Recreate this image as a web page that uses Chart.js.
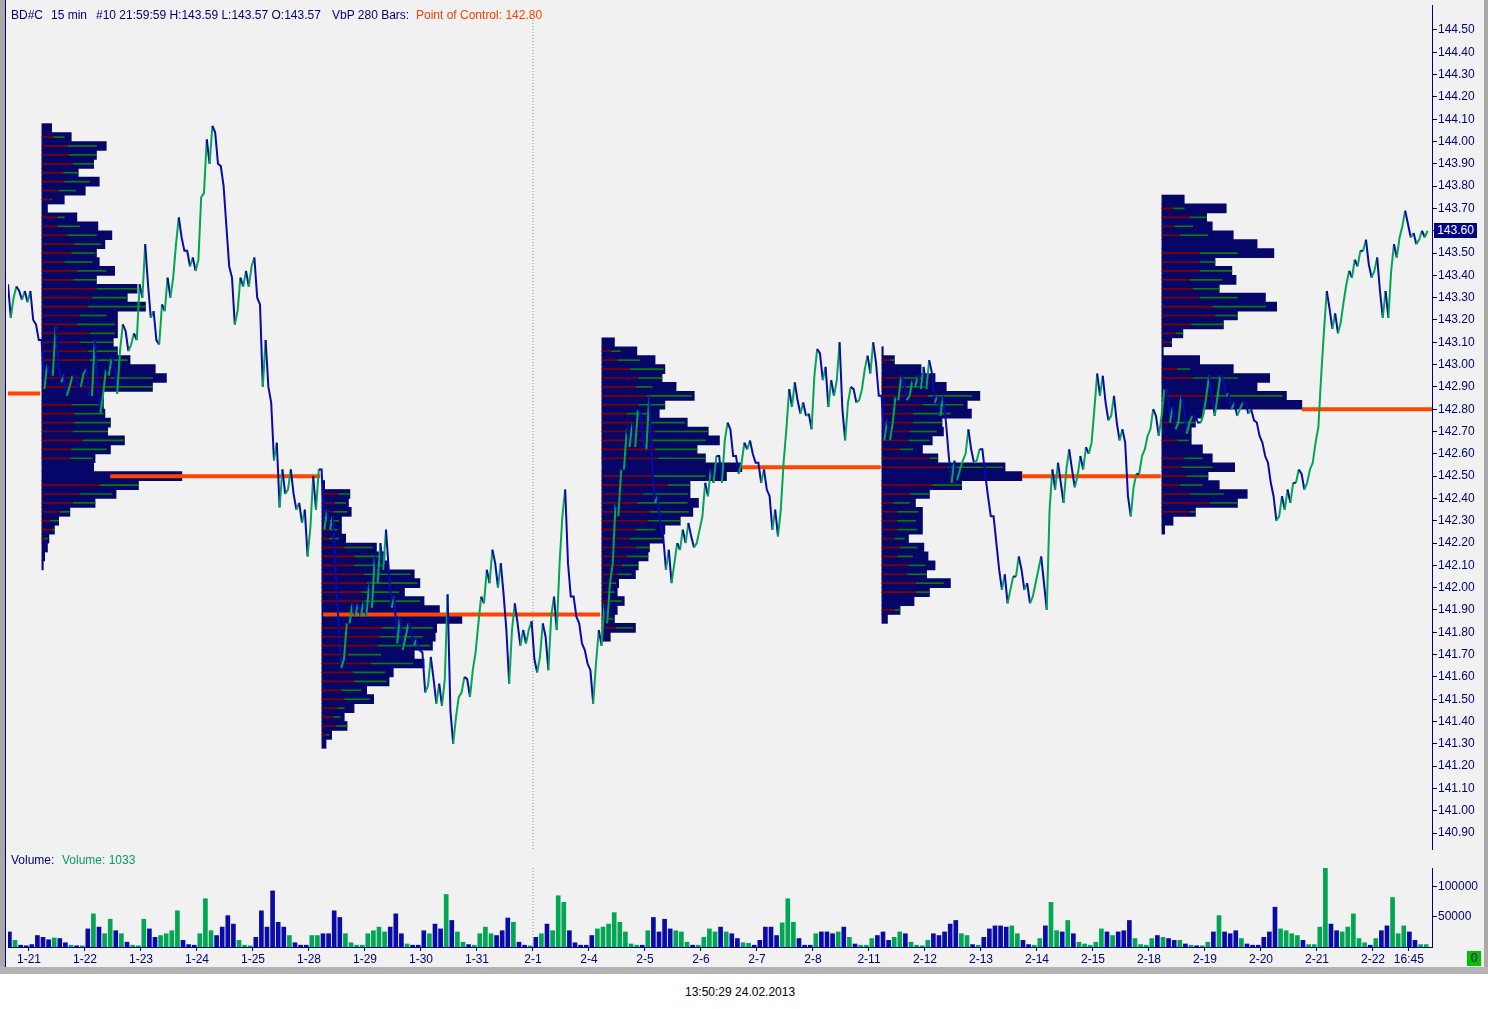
<!DOCTYPE html>
<html>
<head>
<meta charset="utf-8">
<script src="https://cdn.jsdelivr.net/npm/chart.js@4.4.0/dist/chart.umd.min.js"></script>
<style>
  html, body { margin: 0; padding: 0; background: #fff; }
  body { width: 1488px; height: 1009px; position: relative; overflow: hidden;
         font-family: "Liberation Sans", Arial, sans-serif; font-size: 12px; }
  #panel { position: absolute; left: 0; top: 0; width: 1488px; height: 968px; background: #f1f1f1; }
  #edgeL { position: absolute; left: 0; top: 0; width: 5px; height: 968px; background: #a9a9a9; }
  #lineL { position: absolute; left: 5px; top: 0; width: 1px; height: 968px; background: #00006e; }
  #edgeR { position: absolute; right: 0; top: 0; width: 4px; height: 968px; background: #a9a9a9; }
  #edgeB { position: absolute; left: 0; top: 967px; width: 1488px; height: 7px; background: #b4b4b4; }
  canvas { position: absolute; left: 0; }
  .t { position: absolute; white-space: nowrap; line-height: 14px; color: #000080; }
  #last { position: absolute; left: 1434px; top: 223px; width: 43px; height: 15px; line-height: 15px;
          background: #000080; color: #fff; text-align: center; }
  #zero { position: absolute; left: 1467px; top: 951px; width: 14px; height: 15px; line-height: 15px;
          background: #00c000; color: #000060; text-align: center; }
</style>
</head>
<body>
<div id="panel"></div>
<div id="edgeL"></div>
<div id="lineL"></div>
<div id="edgeR"></div>
<div id="edgeB"></div>
<canvas id="price" width="1488" height="850" style="top:0"></canvas>
<canvas id="vol" width="1488" height="120" style="top:850px"></canvas>

<div class="t" style="left:11px;top:8px">BD#C</div>
<div class="t" style="left:51px;top:8px">15 min</div>
<div class="t" style="left:96px;top:8px">#10 21:59:59 H:143.59 L:143.57 O:143.57</div>
<div class="t" style="left:332px;top:8px">VbP 280 Bars:</div>
<div class="t" style="left:416px;top:8px;color:#ff4000">Point of Control: 142.80</div>
<div class="t" style="left:11px;top:853px">Volume:</div>
<div class="t" style="left:62px;top:853px;color:#00a060">Volume: 1033</div>
<div class="t" style="left:685px;top:985px;color:#000">13:50:29 24.02.2013</div>
<div id="last">143.60</div>
<div id="zero">0</div>

<script>
// price range per sample, one sample every 0.1 day starting at day -0.35 (day 0 = 1-21)
const PRICE_START = -0.35;
const PRICE_STEP = 0.1;
const highs = [
  143.36, 143.35, 143.33, 143.33, 143.33, 143.18, 143.11, 143.00, 143.17, 143.00,
  142.95, 142.95, 142.95, 142.96, 142.98, 143.11, 142.92, 142.98, 143.03, 143.00,
  143.18, 143.15, 143.14, 143.36, 143.54, 143.36, 143.24, 143.27, 143.39, 143.39,
  143.66, 143.57, 143.51, 143.48, 143.75, 144.01, 144.07, 144.04, 143.89, 143.62,
  143.39, 143.39, 143.42, 143.44, 143.48, 143.27, 143.11, 142.83, 142.65, 142.53,
  142.53, 142.42, 142.38, 142.35, 142.50, 142.53, 142.53, 142.35, 142.32, 141.85,
  141.84, 141.93, 141.93, 141.94, 142.02, 142.14, 142.20, 142.26, 142.08, 141.96,
  141.87, 141.84, 141.81, 141.77, 141.71, 141.69, 141.59, 141.57, 141.97, 141.45,
  141.51, 141.60, 141.59, 141.71, 141.96, 142.08, 142.17, 142.11, 142.11, 141.81,
  141.93, 141.84, 141.81, 141.85, 141.68, 141.84, 141.78, 141.96, 142.11, 142.44,
  142.11, 141.96, 141.84, 141.72, 141.63, 141.81, 141.93, 142.02, 142.38, 142.53,
  142.71, 142.74, 142.80, 142.78, 142.86, 142.56, 142.41, 142.23, 142.17, 142.20,
  142.26, 142.29, 142.23, 142.26, 142.47, 142.53, 142.59, 142.59, 142.74, 142.71,
  142.59, 142.65, 142.66, 142.60, 142.56, 142.53, 142.41, 142.35, 142.56, 142.89,
  142.92, 142.84, 142.83, 142.78, 143.07, 143.05, 142.99, 142.93, 143.10, 142.80,
  142.90, 142.89, 142.89, 143.04, 143.10, 143.01, 142.86, 142.75, 142.86, 142.95,
  142.92, 142.93, 142.95, 142.99, 143.02, 142.96, 142.86, 142.86, 142.59, 142.57,
  142.57, 142.71, 142.62, 142.62, 142.62, 142.41, 142.32, 142.08, 142.06, 142.05,
  142.14, 142.08, 142.02, 142.02, 142.14, 142.02, 142.53, 142.56, 142.47, 142.62,
  142.53, 142.59, 142.63, 142.65, 142.96, 142.95, 142.83, 142.86, 142.74, 142.71,
  142.41, 142.51, 142.59, 142.68, 142.80, 142.77, 142.89, 142.89, 142.81, 142.86,
  142.81, 142.77, 142.77, 142.78, 142.95, 142.86, 142.95, 142.93, 142.87, 142.83,
  142.83, 142.83, 142.80, 142.74, 142.65, 142.56, 142.41, 142.41, 142.44, 142.47,
  142.53, 142.51, 142.53, 142.65, 142.95, 143.33, 143.25, 143.23, 143.28, 143.42,
  143.47, 143.51, 143.56, 143.45, 143.48, 143.33, 143.33, 143.54, 143.57, 143.69,
  143.63, 143.59, 143.60, 143.60
];
const lows = [
  143.21, 143.30, 143.29, 143.28, 143.20, 143.11, 142.89, 142.95, 142.95, 142.92,
  142.86, 142.90, 142.90, 142.90, 142.86, 142.86, 142.78, 142.87, 142.95, 142.87,
  143.06, 143.06, 143.09, 143.11, 143.30, 143.21, 143.11, 143.09, 143.24, 143.30,
  143.54, 143.51, 143.44, 143.42, 143.47, 143.77, 143.90, 143.90, 143.80, 143.44,
  143.18, 143.24, 143.35, 143.35, 143.30, 142.90, 142.90, 142.57, 142.36, 142.42,
  142.44, 142.35, 142.29, 142.14, 142.27, 142.35, 142.26, 142.26, 142.08, 141.64,
  141.68, 141.84, 141.87, 141.87, 141.87, 141.91, 142.02, 142.08, 141.91, 141.75,
  141.72, 141.78, 141.74, 141.72, 141.53, 141.56, 141.48, 141.47, 141.59, 141.30,
  141.42, 141.53, 141.51, 141.63, 141.84, 141.93, 142.02, 142.00, 141.97, 141.57,
  141.81, 141.74, 141.75, 141.81, 141.62, 141.69, 141.63, 141.87, 141.81, 142.32,
  141.96, 141.87, 141.75, 141.66, 141.48, 141.66, 141.74, 141.84, 142.11, 142.32,
  142.53, 142.63, 142.63, 142.65, 142.62, 142.38, 142.29, 142.08, 142.02, 142.11,
  142.17, 142.20, 142.18, 142.20, 142.32, 142.41, 142.47, 142.47, 142.66, 142.59,
  142.51, 142.56, 142.62, 142.56, 142.47, 142.44, 142.26, 142.23, 142.35, 142.71,
  142.81, 142.78, 142.77, 142.71, 142.95, 142.93, 142.81, 142.86, 142.93, 142.66,
  142.83, 142.83, 142.84, 142.98, 142.96, 142.86, 142.66, 142.66, 142.74, 142.84,
  142.84, 142.86, 142.90, 142.89, 142.89, 142.83, 142.77, 142.74, 142.47, 142.48,
  142.53, 142.60, 142.56, 142.57, 142.51, 142.32, 142.20, 141.99, 141.93, 141.99,
  142.05, 141.99, 141.93, 141.96, 142.08, 141.90, 142.35, 142.44, 142.38, 142.53,
  142.45, 142.50, 142.53, 142.60, 142.80, 142.86, 142.75, 142.77, 142.66, 142.65,
  142.32, 142.45, 142.51, 142.62, 142.71, 142.68, 142.77, 142.74, 142.71, 142.74,
  142.69, 142.74, 142.74, 142.74, 142.86, 142.77, 142.86, 142.86, 142.80, 142.77,
  142.80, 142.78, 142.75, 142.68, 142.59, 142.47, 142.30, 142.32, 142.35, 142.38,
  142.47, 142.44, 142.47, 142.56, 142.72, 143.15, 143.16, 143.14, 143.19, 143.36,
  143.39, 143.44, 143.51, 143.39, 143.42, 143.21, 143.21, 143.42, 143.48, 143.62,
  143.57, 143.54, 143.56, 143.57
];

// volume per sample, thousands of contracts
const volumes = [
  25, 11, 3, 2, 4, 19, 16, 12, 15, 14,
  7, 3, 2, 2, 30, 55, 33, 22, 46, 27,
  22, 8, 3, 2, 46, 30, 16, 19, 22, 27,
  60, 11, 4, 3, 22, 80, 27, 19, 33, 52,
  38, 11, 3, 2, 16, 60, 33, 93, 41, 33,
  19, 7, 3, 3, 19, 19, 22, 22, 60, 49,
  22, 7, 3, 3, 22, 27, 33, 25, 33, 55,
  22, 5, 3, 3, 27, 22, 38, 30, 87, 44,
  25, 8, 4, 3, 22, 33, 22, 19, 27, 48,
  41, 8, 3, 2, 16, 22, 38, 27, 85, 74,
  27, 7, 3, 3, 19, 30, 33, 38, 57, 41,
  25, 5, 3, 3, 27, 49, 25, 46, 30, 27,
  25, 8, 3, 3, 16, 30, 25, 33, 25, 22,
  14, 7, 6, 3, 11, 33, 33, 19, 40, 80,
  41, 14, 3, 3, 22, 25, 25, 22, 25, 33,
  16, 5, 3, 3, 14, 19, 25, 11, 16, 25,
  22, 8, 3, 2, 11, 22, 19, 25, 38, 44,
  22, 19, 4, 3, 16, 30, 35, 35, 33, 35,
  22, 11, 4, 3, 14, 35, 74, 27, 25, 44,
  22, 8, 5, 3, 8, 30, 25, 19, 25, 27,
  44, 14, 4, 3, 14, 19, 16, 14, 11, 11,
  5, 3, 2, 2, 8, 25, 52, 25, 22, 27,
  14, 5, 3, 3, 16, 25, 66, 30, 27, 22,
  19, 11, 4, 4, 33, 131, 38, 27, 25, 33,
  55, 14, 7, 3, 14, 27, 35, 82, 22, 35,
  25, 11, 4, 4
];

// weekly volume-by-price profiles, % of the week's point of control, top row first
const weekStart = [0.23, 5.23, 10.23, 15.23, 20.23];
const profileTop = [144.06, 142.46, 143.10, 143.06, 143.74];
const PROFILE_STEP = 0.04;
const profileWeek1 = [7, 21, 46, 39, 37, 26, 41, 31, 16, 4, 25, 40, 50, 45, 39, 41, 52, 39, 68, 61,
  74, 54, 54, 54, 51, 54, 63, 81, 89, 79, 44, 44, 45, 49, 47, 59, 49, 38, 37, 100,
  69, 53, 38, 20, 12, 9, 5, 4, 2, 1];
const profileWeek2 = [2, 20, 19, 21, 14, 14, 17, 39, 45, 47, 66, 70, 59, 73, 84, 100, 82, 81, 79, 66,
  73, 51, 48, 32, 37, 23, 16, 18, 7, 3];
const profileWeek3 = [9, 25, 38, 45, 43, 53, 66, 45, 41, 61, 76, 84, 68, 74, 100, 89, 63, 63, 69, 65,
  56, 45, 44, 34, 33, 26, 24, 12, 11, 16, 11, 9, 24, 6];
const profileWeek4 = [1, 9, 28, 38, 46, 70, 61, 64, 43, 44, 36, 29, 40, 88, 100, 57, 34, 24, 29, 29,
  29, 19, 30, 33, 38, 32, 49, 34, 23, 13, 4];
const profileWeek5 = [16, 46, 32, 36, 51, 68, 80, 38, 50, 53, 41, 74, 82, 54, 44, 15, 7, 1, 27, 51,
  77, 68, 89, 100, 29, 24, 21, 21, 29, 36, 52, 33, 41, 61, 54, 24, 8, 2];

// down-volume (red) and up-volume end (green) marks inside each profile row, same units
const downWeek1 = [0, 8, 18, 19, 22, 15, 16, 12, 6, 0, 11, 11, 18, 23, 21, 16, 25, 22, 39, 36,
  33, 27, 25, 34, 27, 33, 34, 0, 49, 45, 0, 21, 23, 23, 22, 29, 21, 20, 0, 0,
  41, 27, 22, 13, 6, 7, 2, 0, 0, 0];
const upWeek1 = [0, 16, 39, 39, 37, 26, 34, 24, 7, 0, 16, 27, 39, 42, 38, 36, 46, 39, 68, 61,
  74, 46, 52, 52, 51, 54, 61, 0, 79, 79, 0, 44, 44, 49, 47, 58, 46, 36, 0, 0,
  69, 50, 38, 20, 12, 9, 4, 0, 0, 0];
const downWeek2 = [0, 12, 9, 8, 5, 6, 5, 16, 23, 23, 30, 32, 28, 30, 0, 0, 43, 41, 40, 19,
  35, 22, 23, 14, 16, 11, 8, 10, 3, 0];
const upWeek2 = [0, 20, 17, 18, 12, 11, 12, 36, 45, 44, 63, 68, 55, 70, 0, 0, 79, 72, 77, 42,
  65, 45, 46, 28, 34, 16, 13, 18, 5, 0];
const downWeek3 = [0, 7, 11, 20, 26, 24, 32, 26, 18, 34, 38, 36, 38, 40, 0, 36, 47, 29, 25, 34,
  33, 24, 20, 24, 18, 14, 11, 6, 4, 6, 0, 4, 10, 0];
const upWeek3 = [0, 13, 27, 44, 43, 36, 64, 45, 33, 59, 76, 74, 68, 74, 0, 74, 63, 61, 61, 62,
  56, 38, 43, 34, 33, 26, 21, 10, 9, 14, 0, 8, 22, 0];
const downWeek4 = [0, 6, 0, 15, 14, 33, 29, 22, 22, 20, 19, 13, 34, 47, 0, 36, 20, 8, 11, 11,
  11, 9, 13, 11, 19, 18, 24, 24, 0, 9, 0];
const upWeek4 = [0, 9, 0, 29, 31, 64, 58, 49, 43, 39, 34, 22, 40, 86, 0, 57, 34, 20, 26, 24,
  25, 16, 25, 22, 31, 32, 44, 34, 0, 13, 0];
const downWeek5 = [0, 8, 20, 9, 13, 0, 27, 27, 27, 20, 22, 27, 36, 38, 21, 10, 6, 0, 0, 11,
  22, 0, 38, 0, 0, 9, 0, 11, 0, 16, 14, 18, 13, 20, 34, 20, 0, 0];
const upWeek5 = [0, 16, 32, 22, 33, 0, 54, 38, 50, 43, 41, 54, 74, 54, 44, 15, 7, 0, 0, 20,
  54, 0, 86, 0, 0, 24, 0, 19, 0, 29, 36, 33, 29, 44, 54, 24, 0, 0];

// point of control lines (previous week first)
const pocPrice = [142.87, 142.50, 141.88, 142.54, 142.50, 142.80];
const pocFrom = [-0.41, 1.45, 5.25, 12.73, 17.73, 22.73];
const pocTo = [0.20, 5.20, 10.20, 15.21, 20.21, 25.06];

const priceTicks = [140.9, 141.0, 141.1, 141.2, 141.3, 141.4, 141.5, 141.6, 141.7, 141.8, 141.9,
  142.0, 142.1, 142.2, 142.3, 142.4, 142.5, 142.6, 142.7, 142.8, 142.9,
  143.0, 143.1, 143.2, 143.3, 143.4, 143.5, 143.6, 143.7, 143.8, 143.9,
  144.0, 144.1, 144.2, 144.3, 144.4, 144.5];
const dayTicks = [0, 1, 2, 3, 4, 5, 6, 7, 8, 9, 10, 11, 12, 13, 14, 15, 16, 17, 18, 19, 20, 21, 22, 23, 24, 24.64];
const dayLabels = ['1-21', '1-22', '1-23', '1-24', '1-25', '1-28', '1-29', '1-30', '1-31', '2-1', '2-4', '2-5',
  '2-6', '2-7', '2-8', '2-11', '2-12', '2-13', '2-14', '2-15', '2-18', '2-19', '2-20', '2-21', '2-22', '16:45'];
const volTicks = [50, 100];
const volLabels = ['50000', '100000'];
const MONTH_SPLIT = 9;

const NAVY = '#000080', GREEN = '#00a651', BLUE = '#0a0aa8', PROFILE = '#060668', POC = '#ff4500';
const DOWN_MARK = '#800000', UP_MARK = '#0a7a0a';
const X_MIN = -0.375, X_MAX = 25.054;
const PROFILE_DAYS = 2.5;
const HALF_BAR = 0.025; // each sample drawn as a short stroke from one extreme to the other

Chart.defaults.font.family = '"Liberation Sans", Arial, sans-serif';
Chart.defaults.font.size = 12;
Chart.defaults.color = NAVY;

const mids = highs.map((h, i) => (h + lows[i]) / 2);
const rising = mids.map((m, i) => i > 0 && m > mids[i - 1]);
const pricePts = [];
highs.forEach((h, i) => {
  const x = PRICE_START + i * PRICE_STEP;
  const a = rising[i] ? lows[i] : h, b = rising[i] ? h : lows[i];
  pricePts.push({ x: x - HALF_BAR, y: a }, { x: x + HALF_BAR, y: b });
});
const volColors = rising.map(r => r ? GREEN : BLUE);
const volPts = volumes.map((v, i) => ({ x: PRICE_START + i * PRICE_STEP, y: v }));

const profiles = [profileWeek1, profileWeek2, profileWeek3, profileWeek4, profileWeek5];
const downs = [downWeek1, downWeek2, downWeek3, downWeek4, downWeek5];
const ups = [upWeek1, upWeek2, upWeek3, upWeek4, upWeek5];
const profBars = [], downBars = [], upBars = [];
profiles.forEach((rows, w) => {
  const x0 = weekStart[w], k = PROFILE_DAYS / 100;
  rows.forEach((v, i) => {
    const y = +(profileTop[w] - i * PROFILE_STEP).toFixed(2);
    profBars.push({ y, x: [x0, x0 + v * k] });
    const d = downs[w][i], u = ups[w][i];
    if (d > 0) downBars.push({ y, x: [x0, x0 + d * k] });
    if (u > d) upBars.push({ y, x: [x0 + d * k, x0 + u * k] });
  });
});

const pocSets = pocPrice.map((p, i) => ({
  type: 'line', data: [{ x: pocFrom[i], y: p }, { x: pocTo[i], y: p }],
  borderColor: POC, borderWidth: 4, pointRadius: 0, order: 1
}));

const noPadY = s => { s.width = 56; s.paddingTop = 0; s.paddingBottom = 0; };

new Chart(document.getElementById('price'), {
  type: 'line',
  data: {
    datasets: [
      { type: 'bar', indexAxis: 'y', data: profBars, backgroundColor: PROFILE, borderWidth: 0,
        barThickness: 9, grouped: false, order: 4 },
      { type: 'bar', indexAxis: 'y', data: downBars, backgroundColor: DOWN_MARK, borderWidth: 0,
        barThickness: 1, grouped: false, order: 3 },
      { type: 'bar', indexAxis: 'y', data: upBars, backgroundColor: UP_MARK, borderWidth: 0,
        barThickness: 1, grouped: false, order: 3 },
      ...pocSets,
      { type: 'line', data: [{ x: MONTH_SPLIT, y: 144.545 }, { x: MONTH_SPLIT, y: 140.824 }],
        borderColor: '#8a8a8a', borderWidth: 1, borderDash: [1, 2], pointRadius: 0, order: 2 },
      { type: 'line', data: pricePts, borderWidth: 2, pointRadius: 0, tension: 0, order: 0,
        borderColor: BLUE,
        segment: { borderColor: c => c.p1.parsed.y > c.p0.parsed.y ? GREEN : BLUE } }
    ]
  },
  options: {
    responsive: false, animation: false, devicePixelRatio: 1,
    layout: { padding: { left: 8, top: 5, right: 0, bottom: 0 } },
    plugins: { legend: { display: false }, tooltip: { enabled: false } },
    scales: {
      x: { type: 'linear', min: X_MIN, max: X_MAX, display: false, offset: false, beginAtZero: false },
      y: {
        type: 'linear', position: 'right', min: 140.824, max: 144.612, offset: false,
        afterBuildTicks: s => { s.ticks = priceTicks.map(v => ({ value: v })); },
        afterFit: noPadY,
        ticks: { autoSkip: false, padding: 1, color: NAVY, callback: v => v.toFixed(2) },
        grid: { drawOnChartArea: false, offset: false, tickLength: 5, color: NAVY },
        border: { color: NAVY }
      }
    }
  }
});

new Chart(document.getElementById('vol'), {
  type: 'bar',
  data: {
    datasets: [
      { type: 'bar', data: volPts, backgroundColor: volColors, borderWidth: 0, barThickness: 4, order: 1 },
      { type: 'line', data: [{ x: MONTH_SPLIT, y: 0 }, { x: MONTH_SPLIT, y: 131 }],
        borderColor: '#8a8a8a', borderWidth: 1, borderDash: [1, 2], pointRadius: 0, order: 0 }
    ]
  },
  options: {
    responsive: false, animation: false, devicePixelRatio: 1,
    layout: { padding: { left: 8, top: 18, right: 0, bottom: 0 } },
    plugins: { legend: { display: false }, tooltip: { enabled: false } },
    scales: {
      x: {
        type: 'linear', min: X_MIN, max: X_MAX, offset: false,
        afterBuildTicks: s => { s.ticks = dayTicks.map(v => ({ value: v })); },
        afterFit: s => { s.height = 23; s.paddingLeft = 0; s.paddingRight = 0; },
        ticks: { autoSkip: false, maxRotation: 0, minRotation: 0, padding: 1, color: NAVY,
                 callback: v => dayLabels[dayTicks.indexOf(v)] },
        grid: { drawOnChartArea: false, offset: false, tickLength: 4, color: NAVY },
        border: { color: NAVY }
      },
      y: {
        type: 'linear', position: 'right', min: 0, max: 131,
        afterBuildTicks: s => { s.ticks = volTicks.map(v => ({ value: v })); },
        afterFit: noPadY,
        ticks: { autoSkip: false, padding: 1, color: NAVY, callback: v => volLabels[volTicks.indexOf(v)] },
        grid: { drawOnChartArea: false, tickLength: 5, color: NAVY },
        border: { color: NAVY }
      }
    }
  }
});
</script>
</body>
</html>
